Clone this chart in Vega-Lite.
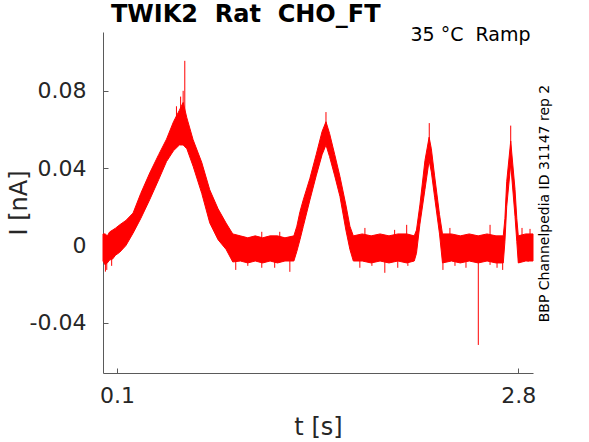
{
  "$schema": "https://vega.github.io/schema/vega-lite/v6.json",
  "autosize": {"type": "none"},
  "padding": {"left": 103, "top": 32, "right": 56, "bottom": 69},
  "width": 430,
  "height": 341,
  "background": "white",
  "title": {
    "text": "TWIK2\u00a0 Rat\u00a0 CHO_FT",
    "anchor": "start",
    "frame": "group",
    "dx": 8,
    "offset": -20,
    "baseline": "alphabetic",
    "font": "DejaVu Sans",
    "fontSize": 24,
    "fontWeight": "bold",
    "color": "#000000"
  },
  "datasets": {
    "band": [
      {"t": 0.0057, "lo": -0.008, "hi": 0.006},
      {"t": 0.02, "lo": -0.010, "hi": 0.006},
      {"t": 0.035, "lo": -0.009, "hi": 0.005},
      {"t": 0.05, "lo": -0.0075, "hi": 0.007},
      {"t": 0.07, "lo": -0.007, "hi": 0.008},
      {"t": 0.09, "lo": -0.005, "hi": 0.009},
      {"t": 0.118, "lo": -0.0035, "hi": 0.0107},
      {"t": 0.16, "lo": 0.0, "hi": 0.013},
      {"t": 0.208, "lo": 0.0064, "hi": 0.0168},
      {"t": 0.26, "lo": 0.014, "hi": 0.027},
      {"t": 0.32, "lo": 0.0237, "hi": 0.0375},
      {"t": 0.38, "lo": 0.034, "hi": 0.047},
      {"t": 0.433, "lo": 0.0434, "hi": 0.055},
      {"t": 0.48, "lo": 0.049, "hi": 0.064},
      {"t": 0.52, "lo": 0.052, "hi": 0.07},
      {"t": 0.545, "lo": 0.052, "hi": 0.074},
      {"t": 0.57, "lo": 0.05, "hi": 0.066},
      {"t": 0.612, "lo": 0.041, "hi": 0.0547},
      {"t": 0.67, "lo": 0.027, "hi": 0.043},
      {"t": 0.724, "lo": 0.0117, "hi": 0.0288},
      {"t": 0.78, "lo": 0.003, "hi": 0.019},
      {"t": 0.834, "lo": -0.002, "hi": 0.0116},
      {"t": 0.879, "lo": -0.0085, "hi": 0.006},
      {"t": 0.93, "lo": -0.008, "hi": 0.005},
      {"t": 0.98, "lo": -0.009, "hi": 0.004},
      {"t": 1.03, "lo": -0.008, "hi": 0.005},
      {"t": 1.08, "lo": -0.009, "hi": 0.004},
      {"t": 1.13, "lo": -0.008, "hi": 0.005},
      {"t": 1.18, "lo": -0.009, "hi": 0.005},
      {"t": 1.23, "lo": -0.008, "hi": 0.004},
      {"t": 1.29, "lo": -0.008, "hi": 0.005},
      {"t": 1.31, "lo": -0.003, "hi": 0.01},
      {"t": 1.331, "lo": 0.003, "hi": 0.0175},
      {"t": 1.353, "lo": 0.0098, "hi": 0.0236},
      {"t": 1.398, "lo": 0.0236, "hi": 0.0348},
      {"t": 1.44, "lo": 0.036, "hi": 0.047},
      {"t": 1.48, "lo": 0.047, "hi": 0.059},
      {"t": 1.506, "lo": 0.052, "hi": 0.064},
      {"t": 1.53, "lo": 0.046, "hi": 0.058},
      {"t": 1.565, "lo": 0.036, "hi": 0.047},
      {"t": 1.6, "lo": 0.0254, "hi": 0.0357},
      {"t": 1.64, "lo": 0.008, "hi": 0.021},
      {"t": 1.667, "lo": -0.002, "hi": 0.01},
      {"t": 1.69, "lo": -0.008, "hi": 0.005},
      {"t": 1.75, "lo": -0.008, "hi": 0.006},
      {"t": 1.81, "lo": -0.009, "hi": 0.005},
      {"t": 1.87, "lo": -0.008, "hi": 0.006},
      {"t": 1.93, "lo": -0.009, "hi": 0.005},
      {"t": 1.99, "lo": -0.008, "hi": 0.006},
      {"t": 2.05, "lo": -0.009, "hi": 0.006},
      {"t": 2.1, "lo": -0.008, "hi": 0.005},
      {"t": 2.115, "lo": -0.004, "hi": 0.008},
      {"t": 2.138, "lo": 0.011, "hi": 0.021},
      {"t": 2.172, "lo": 0.029, "hi": 0.044},
      {"t": 2.2, "lo": 0.044, "hi": 0.056},
      {"t": 2.215, "lo": 0.038, "hi": 0.05},
      {"t": 2.237, "lo": 0.025, "hi": 0.036},
      {"t": 2.27, "lo": 0.006, "hi": 0.016},
      {"t": 2.29, "lo": -0.009, "hi": 0.006},
      {"t": 2.35, "lo": -0.008, "hi": 0.006},
      {"t": 2.41, "lo": -0.009, "hi": 0.005},
      {"t": 2.47, "lo": -0.008, "hi": 0.006},
      {"t": 2.53, "lo": -0.009, "hi": 0.005},
      {"t": 2.59, "lo": -0.008, "hi": 0.006},
      {"t": 2.65, "lo": -0.009, "hi": 0.005},
      {"t": 2.699, "lo": -0.009, "hi": 0.005},
      {"t": 2.71, "lo": 0.002, "hi": 0.014},
      {"t": 2.722, "lo": 0.02, "hi": 0.033},
      {"t": 2.749, "lo": 0.042, "hi": 0.054},
      {"t": 2.778, "lo": 0.015, "hi": 0.029},
      {"t": 2.79, "lo": 0.002, "hi": 0.014},
      {"t": 2.8, "lo": -0.009, "hi": 0.005},
      {"t": 2.85, "lo": -0.008, "hi": 0.006},
      {"t": 2.899, "lo": -0.008, "hi": 0.006}
    ],
    "spikes": [
      {"t": 0.022, "y1": -0.006, "y2": -0.0135},
      {"t": 0.031, "y1": -0.006, "y2": -0.0126},
      {"t": 0.064, "y1": -0.005, "y2": -0.0105},
      {"t": 0.5, "y1": 0.06, "y2": 0.072},
      {"t": 0.528, "y1": 0.06, "y2": 0.077},
      {"t": 0.545, "y1": 0.06, "y2": 0.08},
      {"t": 0.556, "y1": 0.06, "y2": 0.0955},
      {"t": 0.899, "y1": -0.006, "y2": -0.0126},
      {"t": 0.98, "y1": -0.006, "y2": -0.0105},
      {"t": 1.074, "y1": -0.006, "y2": -0.0115},
      {"t": 1.074, "y1": 0.003, "y2": 0.0071},
      {"t": 1.161, "y1": -0.006, "y2": -0.0115},
      {"t": 1.195, "y1": 0.003, "y2": 0.0071},
      {"t": 1.263, "y1": -0.006, "y2": -0.0136},
      {"t": 1.506, "y1": 0.058, "y2": 0.069},
      {"t": 1.734, "y1": -0.006, "y2": -0.0115},
      {"t": 1.768, "y1": 0.004, "y2": 0.0091},
      {"t": 1.815, "y1": -0.006, "y2": -0.0105},
      {"t": 1.902, "y1": -0.006, "y2": -0.0141},
      {"t": 1.968, "y1": 0.004, "y2": 0.0081},
      {"t": 1.989, "y1": -0.006, "y2": -0.0115},
      {"t": 2.057, "y1": -0.006, "y2": -0.0105},
      {"t": 2.049, "y1": 0.004, "y2": 0.0107},
      {"t": 2.201, "y1": 0.05, "y2": 0.0633},
      {"t": 2.293, "y1": -0.006, "y2": -0.0126},
      {"t": 2.34, "y1": 0.004, "y2": 0.0091},
      {"t": 2.374, "y1": -0.006, "y2": -0.0105},
      {"t": 2.448, "y1": -0.006, "y2": -0.0115},
      {"t": 2.531, "y1": -0.004, "y2": -0.0514},
      {"t": 2.61, "y1": -0.006, "y2": -0.01},
      {"t": 2.61, "y1": 0.004, "y2": 0.0107},
      {"t": 2.657, "y1": -0.006, "y2": -0.0115},
      {"t": 2.695, "y1": -0.006, "y2": -0.0126},
      {"t": 2.749, "y1": 0.05, "y2": 0.062},
      {"t": 2.805, "y1": -0.006, "y2": -0.0089},
      {"t": 2.825, "y1": 0.004, "y2": 0.0091},
      {"t": 2.866, "y1": -0.006, "y2": -0.0084},
      {"t": 2.879, "y1": 0.004, "y2": 0.0086}
    ]
  },
  "layer": [
    {
      "data": {"name": "band"},
      "mark": {"type": "area", "color": "#ff0000", "stroke": "#ff0000", "strokeWidth": 1, "opacity": 1},
      "encoding": {
        "x": {
          "field": "t",
          "type": "quantitative",
          "scale": {"domain": [0.0057, 2.899], "nice": false, "zero": false},
          "axis": {
            "orient": "bottom",
            "values": [0.1, 2.8],
            "labelExpr": "'' + datum.value",
            "labelFlush": false,
            "labelFontSize": 22,
            "labelBaseline": "alphabetic",
            "labelPadding": 34,
            "title": "t [s]",
            "titleFontSize": 24,
            "titleX": 215,
            "titleY": 61,
            "titleBaseline": "alphabetic",
            "titleAlign": "center"
          }
        },
        "y": {
          "field": "lo",
          "type": "quantitative",
          "scale": {"domain": [-0.0659, 0.1104], "nice": false, "zero": false},
          "axis": {
            "orient": "left",
            "values": [-0.04, 0, 0.04, 0.08],
            "labelExpr": "'' + datum.value",
            "labelFontSize": 22,
            "labelPadding": 22,
            "title": "I [nA]",
            "titleFontSize": 24,
            "titleAngle": 270,
            "titleX": -77,
            "titleY": 170.5,
            "titleBaseline": "alphabetic",
            "titleAlign": "center"
          }
        },
        "y2": {"field": "hi"}
      }
    },
    {
      "data": {"name": "spikes"},
      "mark": {"type": "rule", "color": "#ff0000", "strokeWidth": 1},
      "encoding": {
        "x": {
          "field": "t",
          "type": "quantitative",
          "axis": {
            "orient": "top",
            "domain": false,
            "ticks": false,
            "labels": false,
            "title": "35 °C\u00a0 Ramp",
            "titleFontSize": 19,
            "titleColor": "#000000",
            "titleX": 427,
            "titleY": 8.7,
            "titleAlign": "right",
            "titleBaseline": "alphabetic"
          }
        },
        "y": {
          "field": "y1",
          "type": "quantitative",
          "axis": {
            "orient": "right",
            "domain": false,
            "ticks": false,
            "labels": false,
            "title": "BBP Channelpedia ID 31147 rep 2",
            "titleFontSize": 14,
            "titleColor": "#000000",
            "titleAngle": 270,
            "titleX": 15,
            "titleY": 171,
            "titleAlign": "center",
            "titleBaseline": "alphabetic"
          }
        },
        "y2": {"field": "y2"}
      }
    }
  ],
  "resolve": {"axis": {"x": "independent", "y": "independent"}},
  "config": {
    "view": {"stroke": null},
    "font": "DejaVu Sans",
    "axis": {
      "grid": false,
      "labelFont": "DejaVu Sans",
      "titleFont": "DejaVu Sans",
      "labelColor": "#262626",
      "titleColor": "#262626",
      "titleFontWeight": "normal",
      "domainColor": "#5a5a5a",
      "domainWidth": 1,
      "tickColor": "#5a5a5a",
      "tickWidth": 1,
      "tickSize": -5
    }
  }
}
